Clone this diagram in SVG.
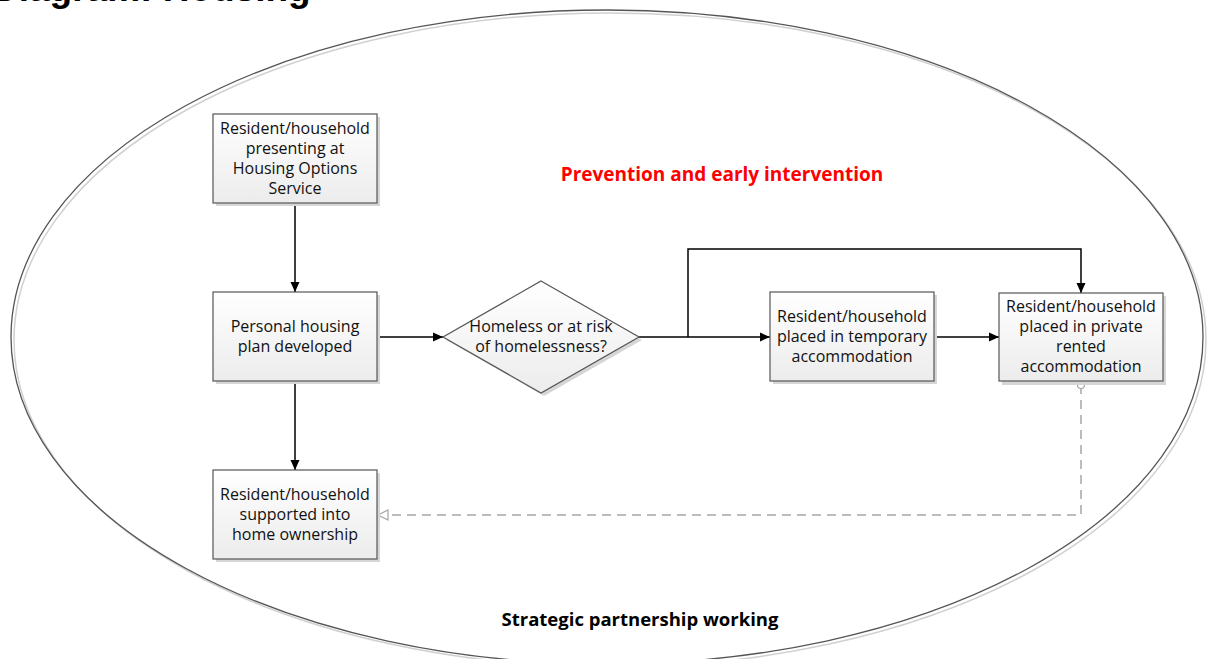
<svg xmlns="http://www.w3.org/2000/svg" width="1208" height="659" viewBox="0 0 1208 659">
<style>
.box{fill:url(#g);stroke:#555;stroke-width:1.2}
.sh{fill:#d6d6d6}
.t{font-family:"Open Sans","Liberation Sans",sans-serif;font-size:16px;fill:#111;text-anchor:middle}
.c{fill:none;stroke:#000;stroke-width:1.5}
.d{fill:none;stroke:#a6a6a6;stroke-width:1.5;stroke-dasharray:9 6}
</style>
<defs>
<linearGradient id="g" x1="0" y1="0" x2="0" y2="1">
<stop offset="0" stop-color="#ffffff"/>
<stop offset="1" stop-color="#ececec"/>
</linearGradient>
<marker id="a" viewBox="0 0 10 10" refX="10" refY="5" markerWidth="10" markerHeight="10" markerUnits="userSpaceOnUse" orient="auto">
<path d="M0,0.5 L10,5 L0,9.5 Z" fill="#000"/>
</marker>
<marker id="o" viewBox="0 0 12 12" refX="11" refY="6" markerWidth="12" markerHeight="12" markerUnits="userSpaceOnUse" orient="auto">
<path d="M1,1 L11,6 L1,11 Z" fill="#fff" stroke="#a6a6a6" stroke-width="1.2"/>
</marker>
<marker id="ci" viewBox="0 0 10 10" refX="5" refY="5" markerWidth="10" markerHeight="10" markerUnits="userSpaceOnUse">
<circle cx="5" cy="5" r="3.5" fill="#fff" stroke="#a6a6a6" stroke-width="1.2"/>
</marker>
</defs>
<rect width="1208" height="659" fill="#fff"/>
<text x="-8" y="1" font-family="Liberation Sans, sans-serif" font-weight="bold" font-size="37" fill="#000">Diagram: Housing</text>
<g id="boundary">
<ellipse cx="610" cy="340" rx="596" ry="327" fill="none" stroke="#d0d0d0" stroke-width="1.5"/>
<ellipse cx="607" cy="337" rx="596" ry="327" fill="none" stroke="#555" stroke-width="1.3"/>
</g>
<text x="722" y="181" font-family="Open Sans, Liberation Sans, sans-serif" font-weight="bold" font-size="19" fill="#ff0000" text-anchor="middle">Prevention and early intervention</text>
<text x="640" y="626" font-family="Open Sans, Liberation Sans, sans-serif" font-weight="bold" font-size="18.5" fill="#000" text-anchor="middle">Strategic partnership working</text>
<g id="connectors">
<path class="c" d="M295,203 V292" marker-end="url(#a)"/>
<path class="c" d="M295,381 V470" marker-end="url(#a)"/>
<path class="c" d="M377,337 H443" marker-end="url(#a)"/>
<path class="c" d="M639,337 H770" marker-end="url(#a)"/>
<path class="c" d="M688,337 V249 H1081 V293" marker-end="url(#a)"/>
<path class="c" d="M934,337 H999" marker-end="url(#a)"/>
<path class="d" d="M1081,385 V515 H378" marker-start="url(#ci)" marker-end="url(#o)"/>
</g>
<g id="n1">
<rect class="sh" x="216" y="117" width="164" height="89"/>
<rect class="box" x="213" y="114" width="164" height="89"/>
<text class="t" x="295" y="133.5">Resident/household</text>
<text class="t" x="295" y="153.5">presenting at</text>
<text class="t" x="295" y="173.5">Housing Options</text>
<text class="t" x="295" y="193.5">Service</text>
</g>
<g id="n2">
<rect class="sh" x="216" y="295" width="164" height="89"/>
<rect class="box" x="213" y="292" width="164" height="89"/>
<text class="t" x="295" y="331.5">Personal housing</text>
<text class="t" x="295" y="351.5">plan developed</text>
</g>
<g id="n3">
<rect class="sh" x="216" y="473" width="164" height="89"/>
<rect class="box" x="213" y="470" width="164" height="89"/>
<text class="t" x="295" y="499.5">Resident/household</text>
<text class="t" x="295" y="520">supported into</text>
<text class="t" x="295" y="540">home ownership</text>
</g>
<g id="n4">
<polygon points="544,284 642,340 544,396 446,340" fill="#d6d6d6"/>
<polygon class="box" points="541,281 639,337 541,393 443,337"/>
<text class="t" x="541" y="331.5">Homeless or at risk</text>
<text class="t" x="541" y="351.5">of homelessness?</text>
</g>
<g id="n5">
<rect class="sh" x="773" y="295" width="164" height="89"/>
<rect class="box" x="770" y="292" width="164" height="89"/>
<text class="t" x="852" y="321.5">Resident/household</text>
<text class="t" x="852" y="342">placed in temporary</text>
<text class="t" x="852" y="362">accommodation</text>
</g>
<g id="n6">
<rect class="sh" x="1002" y="296" width="164" height="89"/>
<rect class="box" x="999" y="293" width="164" height="88"/>
<text class="t" x="1081" y="311.5">Resident/household</text>
<text class="t" x="1081" y="331.5">placed in private</text>
<text class="t" x="1081" y="351.5">rented</text>
<text class="t" x="1081" y="371.5">accommodation</text>
</g>
</svg>
